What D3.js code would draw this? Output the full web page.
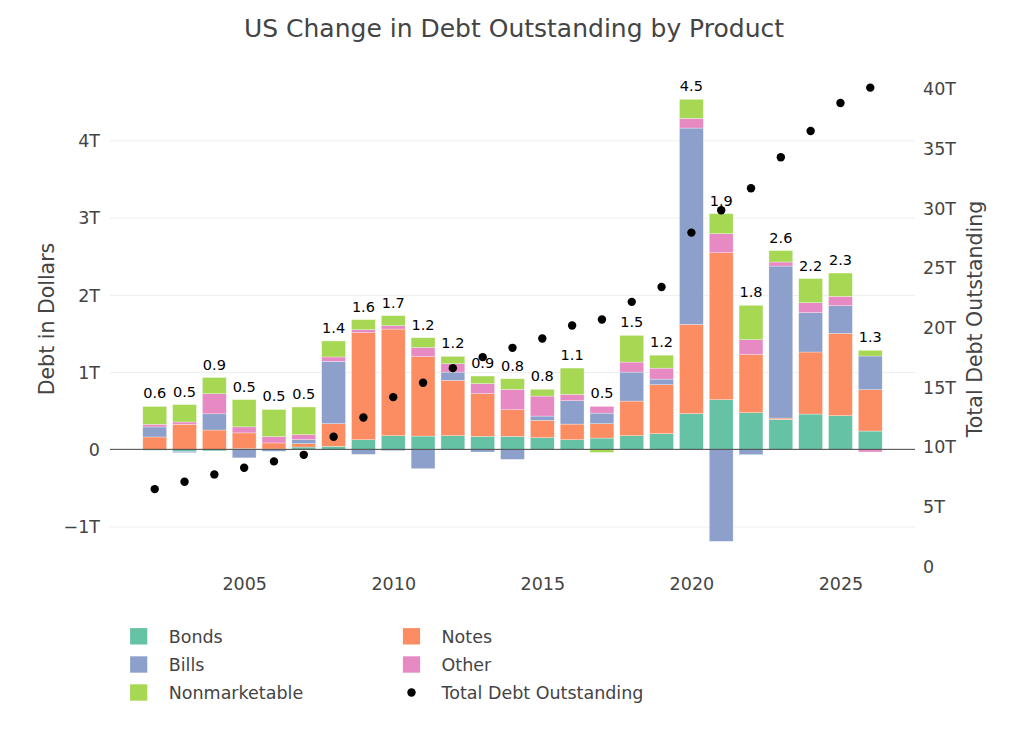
<!DOCTYPE html>
<html>
<head>
  <script src="https://d3js.org/d3.v7.min.js"></script>
  <style>
    body { margin: 0; background: #fff; }
    svg text { font-family: "DejaVu Sans", Verdana, sans-serif; }
    .tick text { fill: #444; font-size: 17.5px; }
    .grid line { stroke: #eee; stroke-width: 1; }
    .bar { stroke: #fff; stroke-width: 0.5; stroke-opacity: 0.6; }
  </style>
</head>
<body>
  <div id="chart"></div>
  <script>
    // values in trillions of dollars
    var years = [2002, 2003, 2004, 2005, 2006, 2007, 2008, 2009, 2010, 2011, 2012, 2013,
                 2014, 2015, 2016, 2017, 2018, 2019, 2020, 2021, 2022, 2023, 2024, 2025, 2026];
    var bonds = [-0.012, -0.026, -0.02, 0.01, 0.005, 0.03, 0.039, 0.125, 0.177, 0.172, 0.177, 0.168,
                 0.168, 0.151, 0.125, 0.146, 0.177, 0.203, 0.462, 0.643, 0.475, 0.388, 0.457, 0.436, 0.237];
    var notes = [0.16, 0.324, 0.25, 0.203, 0.078, 0.044, 0.294, 1.385, 1.38, 1.028, 0.716, 0.553,
                 0.345, 0.224, 0.202, 0.186, 0.448, 0.634, 1.156, 1.903, 0.751, 0.017, 0.803, 1.065, 0.536];
    var bills = [0.13, -0.017, 0.21, -0.11, -0.025, 0.052, 0.807, -0.065, -0.017, -0.25, 0.107, -0.035,
                 -0.13, 0.056, 0.303, 0.137, 0.375, 0.072, 2.541, -1.191, -0.069, 1.968, 0.51, 0.359, 0.435];
    var other = [0.035, 0.03, 0.26, 0.078, 0.083, 0.065, 0.056, 0.039, 0.044, 0.12, 0.109, 0.13,
                 0.263, 0.259, 0.082, 0.087, 0.13, 0.142, 0.126, 0.246, 0.194, 0.052, 0.129, 0.12, -0.034];
    var nonmarketable = [0.23, 0.225, 0.21, 0.353, 0.35, 0.357, 0.207, 0.13, 0.13, 0.125, 0.095, 0.098,
                 0.138, 0.087, 0.34, -0.04, 0.345, 0.168, 0.246, 0.259, 0.444, 0.148, 0.311, 0.302, 0.074];
    var totalDebt = [6.44, 7.05, 7.67, 8.23, 8.76, 9.31, 10.82, 12.44, 14.14, 15.34, 16.57, 17.49,
                 18.27, 19.05, 20.14, 20.64, 22.12, 23.37, 27.92, 29.79, 31.63, 34.23, 36.43, 38.77, 40.06];
    var changeLabels = ["0.6", "0.5", "0.9", "0.5", "0.5", "0.5", "1.4", "1.6", "1.7", "1.2", "1.2", "0.9",
                 "0.8", "0.8", "1.1", "0.5", "1.5", "1.2", "4.5", "1.9", "1.8", "2.6", "2.2", "2.3", "1.3"];

    var leftTicks = [-1, 0, 1, 2, 3, 4];
    var rightTicks = [0, 5, 10, 15, 20, 25, 30, 35, 40];
    var xTicks = [2005, 2010, 2015, 2020, 2025];

    var series = [
      { name: "Bonds", values: bonds, color: "#66c2a5" },
      { name: "Notes", values: notes, color: "#fc8d62" },
      { name: "Bills", values: bills, color: "#8da0cb" },
      { name: "Other", values: other, color: "#e78ac3" },
      { name: "Nonmarketable", values: nonmarketable, color: "#a6d854" }
    ];

    var w = 1024, h = 731;
    var plotLeft = 110, plotRight = 915, plotTop = 77, plotBottom = 566;

    var svg = d3.select("#chart").append("svg")
      .attr("width", w)
      .attr("height", h);

    var xScale = d3.scaleLinear().domain([2000.5, 2027.5]).range([plotLeft, plotRight]);
    var yLeft = d3.scaleLinear().domain([-1.51, 4.82]).range([plotBottom, plotTop]);
    var yRight = d3.scaleLinear().domain([0, 40.95]).range([plotBottom, plotTop]);
    var barW = (xScale(1) - xScale(0)) * 0.8;

    function fmtT(v) {
      if (v === 0) return "0";
      return (v < 0 ? "\u2212" + Math.abs(v) : v) + "T";
    }

    // grid
    svg.append("g")
      .attr("class", "grid")
      .attr("transform", `translate(${plotLeft},0)`)
      .call(d3.axisLeft(yLeft).tickValues(leftTicks.filter(d => d !== 0)).tickSize(-(plotRight - plotLeft)).tickFormat(""))
      .call(g => g.select(".domain").remove());

    // stacked bars, relative mode: positives up, negatives down
    var posBase = years.map(() => 0);
    var negBase = years.map(() => 0);
    var rects = [];
    series.forEach(s => {
      s.values.forEach((v, i) => {
        var y0, y1;
        if (v >= 0) { y0 = posBase[i]; y1 = y0 + v; posBase[i] = y1; }
        else { y0 = negBase[i]; y1 = y0 + v; negBase[i] = y1; }
        rects.push({ year: years[i], y0: y0, y1: y1, color: s.color });
      });
    });

    svg.append("g").selectAll("rect")
      .data(rects)
      .enter().append("rect")
      .attr("class", "bar")
      .attr("x", d => xScale(d.year) - barW / 2)
      .attr("width", barW)
      .attr("y", d => yLeft(Math.max(d.y0, d.y1)))
      .attr("height", d => Math.abs(yLeft(d.y0) - yLeft(d.y1)))
      .attr("fill", d => d.color);

    // zero line
    svg.append("line")
      .attr("x1", plotLeft).attr("x2", plotRight)
      .attr("y1", yLeft(0)).attr("y2", yLeft(0))
      .attr("stroke", "#444").attr("stroke-width", 1);

    // labels above bars
    svg.append("g").selectAll("text")
      .data(years)
      .enter().append("text")
      .attr("x", d => xScale(d))
      .attr("y", (d, i) => yLeft(posBase[i]) - 8)
      .attr("text-anchor", "middle")
      .attr("font-size", "14.5px")
      .attr("fill", "#000")
      .text((d, i) => changeLabels[i]);

    // total debt dots
    svg.append("g").selectAll("circle")
      .data(years)
      .enter().append("circle")
      .attr("cx", d => xScale(d))
      .attr("cy", (d, i) => yRight(totalDebt[i]))
      .attr("r", 4.2)
      .attr("fill", "#000");

    // axes
    svg.append("g")
      .attr("transform", `translate(${plotLeft - 7},0)`)
      .call(d3.axisLeft(yLeft).tickValues(leftTicks).tickSize(0).tickFormat(fmtT))
      .call(g => g.select(".domain").remove())
      .selectAll("text").attr("dy", "0.36em");

    svg.append("g")
      .attr("transform", `translate(${plotRight + 5},0)`)
      .call(d3.axisRight(yRight).tickValues(rightTicks).tickSize(0).tickFormat(fmtT))
      .call(g => g.select(".domain").remove())
      .selectAll("text").attr("dy", "0.36em");

    svg.append("g")
      .attr("transform", `translate(0,${plotBottom})`)
      .call(d3.axisBottom(xScale).tickValues(xTicks).tickSize(0).tickFormat(d3.format("d")))
      .call(g => g.select(".domain").remove())
      .selectAll("text").attr("dy", "0").attr("y", 24);

    // titles
    svg.append("text")
      .attr("x", 514).attr("y", 37)
      .attr("text-anchor", "middle")
      .attr("font-size", "25px")
      .attr("fill", "#444")
      .text("US Change in Debt Outstanding by Product");

    svg.append("text")
      .attr("transform", "translate(47,319) rotate(-90)")
      .attr("text-anchor", "middle")
      .attr("dy", "0.36em")
      .attr("font-size", "20.5px")
      .attr("fill", "#444")
      .text("Debt in Dollars");

    svg.append("text")
      .attr("transform", "translate(975,319) rotate(-90)")
      .attr("text-anchor", "middle")
      .attr("dy", "0.36em")
      .attr("font-size", "20.5px")
      .attr("fill", "#444")
      .text("Total Debt Outstanding");

    // legend, two columns filled row by row
    var legendItems = series.map(s => ({ name: s.name, color: s.color, type: "bar" }))
      .concat([{ name: "Total Debt Outstanding", color: "#000", type: "dot" }]);
    var colX = [138.7, 411.5];
    var rowY = [636.3, 664.5, 692.5];

    var legend = svg.append("g").selectAll("g")
      .data(legendItems)
      .enter().append("g")
      .attr("transform", (d, i) => `translate(${colX[i % 2]},${rowY[Math.floor(i / 2)]})`);

    legend.filter(d => d.type === "bar").append("rect")
      .attr("x", -8.6).attr("y", -8.2)
      .attr("width", 17.2).attr("height", 16.4)
      .attr("fill", d => d.color);

    legend.filter(d => d.type === "dot").append("circle")
      .attr("r", 4.2)
      .attr("fill", d => d.color);

    legend.append("text")
      .attr("x", 30)
      .attr("dy", "0.36em")
      .attr("font-size", "17.5px")
      .attr("fill", "#444")
      .text(d => d.name);
  </script>
</body>
</html>
